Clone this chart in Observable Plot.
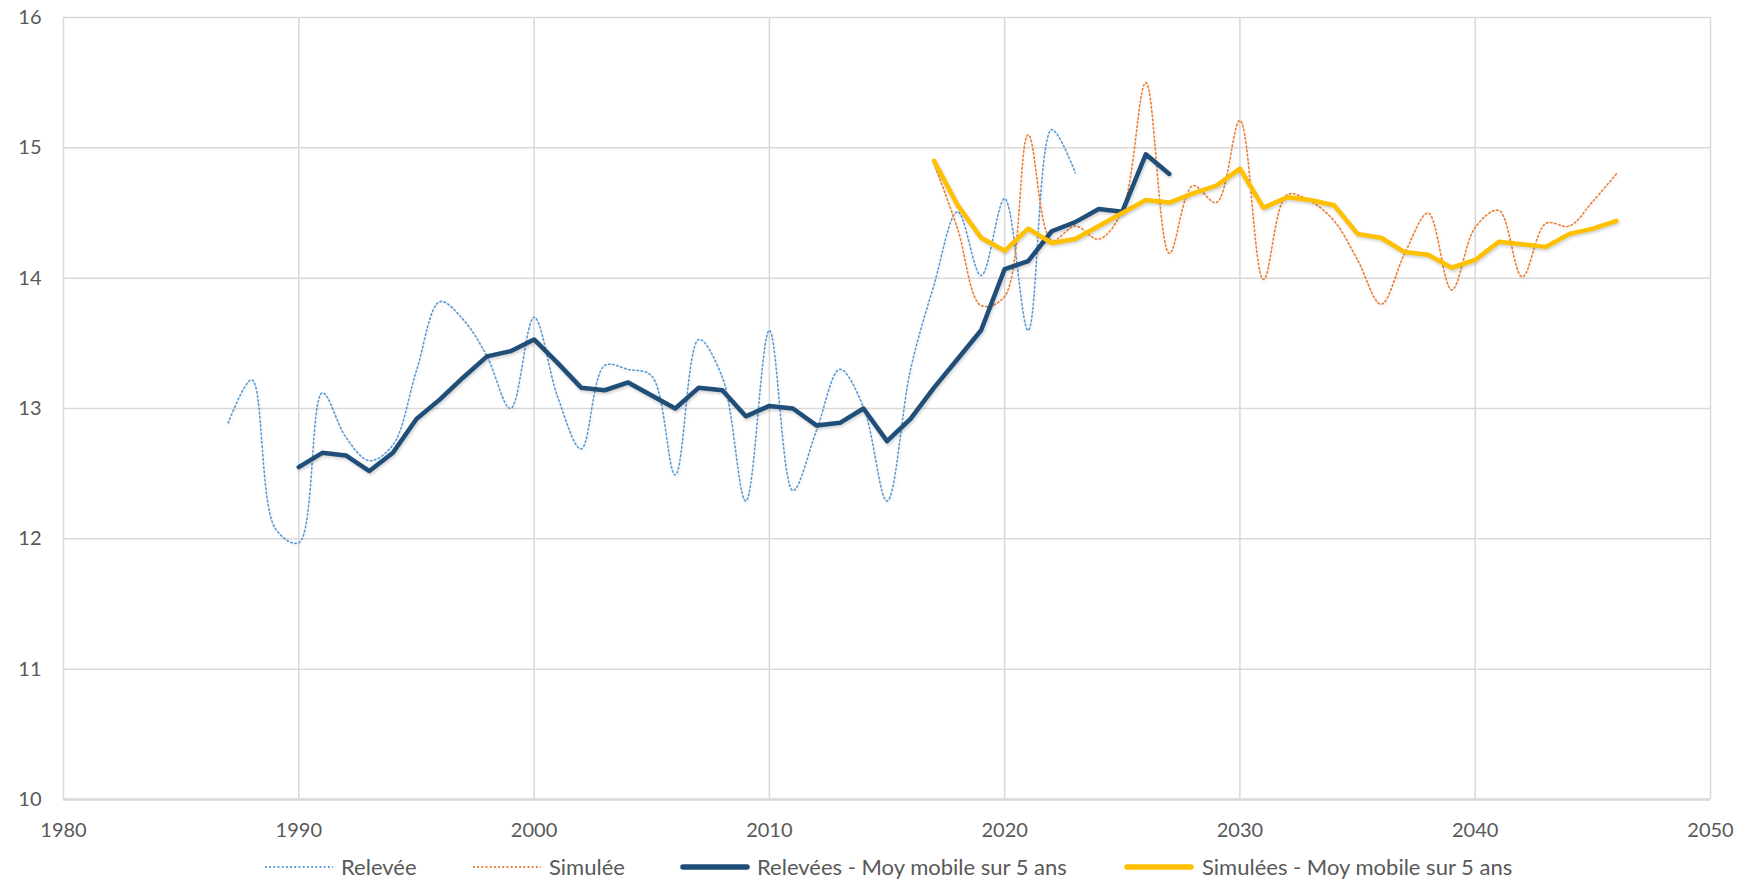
<!DOCTYPE html>
<html>
<head>
<meta charset="utf-8">
<script src="https://cdn.jsdelivr.net/npm/d3@7"></script>
<script src="https://cdn.jsdelivr.net/npm/@observablehq/plot@0.6"></script>
<style>
  html, body { margin: 0; padding: 0; background: #fff; }
  #wrap { position: relative; width: 1745px; height: 881px; font-family: Lato, "Open Sans", sans-serif; }
  #legend { position: absolute; left: 0; top: 851px; width: 1745px; height: 32px; }
  .sw { position: absolute; top: 11px; }
  .lt { position: absolute; top: 0; height: 32px; line-height: 32px; font-size: 22px; color: #595959; white-space: nowrap; }
  .shadow path { filter: drop-shadow(1px 2px 1.5px rgba(0,0,0,0.18)); }
  .shadowlight path { filter: drop-shadow(1px 2px 1.5px rgba(0,0,0,0.08)); }
</style>
</head>
<body>
<div id="wrap">
  <div id="chart"></div>
  <div id="legend"></div>
</div>
<script>
// Relevée (observed), 1987–2023
const releveYears = d3.range(1987, 2024);
const releve = [12.89, 13.22, 12.08, 11.97, 13.12, 12.78, 12.60, 12.72, 13.29, 13.82,
                13.68, 13.40, 13.00, 13.70, 13.09, 12.69, 13.33, 13.30, 13.25, 12.49,
                13.53, 13.24, 12.29, 13.60, 12.37, 12.83, 13.30, 13.01, 12.29, 13.30,
                13.95, 14.51, 14.02, 14.61, 13.60, 15.14, 14.81];

// Simulée, 2017–2046
const simuleYears = d3.range(2017, 2047);
const simule = [14.88, 14.38, 13.79, 13.86, 15.10, 14.29, 14.40, 14.30, 14.52, 15.50,
                14.19, 14.71, 14.58, 15.21, 13.99, 14.64, 14.59, 14.44, 14.14, 13.80,
                14.19, 14.50, 13.91, 14.39, 14.52, 14.01, 14.42, 14.40, 14.59, 14.80];

// Relevées - moyenne mobile sur 5 ans, 1990–2027
const releveMMYears = d3.range(1990, 2028);
const releveMM = [12.55, 12.66, 12.64, 12.52, 12.66, 12.92, 13.07, 13.24, 13.40, 13.44,
                  13.53, 13.35, 13.16, 13.14, 13.20, 13.10, 13.00, 13.16, 13.14, 12.94,
                  13.02, 13.00, 12.87, 12.89, 13.00, 12.75, 12.92, 13.16, 13.38, 13.60,
                  14.07, 14.13, 14.36, 14.43, 14.53, 14.51, 14.95, 14.80];

// Simulées - moyenne mobile sur 5 ans, 2017–2046
const simuleMMYears = d3.range(2017, 2047);
const simuleMM = [14.90, 14.56, 14.31, 14.21, 14.38, 14.27, 14.30, 14.40, 14.50, 14.60,
                  14.58, 14.65, 14.71, 14.84, 14.54, 14.62, 14.60, 14.56, 14.34, 14.31,
                  14.20, 14.18, 14.08, 14.14, 14.28, 14.26, 14.24, 14.34, 14.38, 14.44];

const xTicks = d3.range(1980, 2051, 10);
const yTicks = [10, 11, 12, 13, 14, 15, 16];

const seriesNames = ["Relevée", "Simulée", "Relevées - Moy mobile sur 5 ans", "Simulées - Moy mobile sur 5 ans"];
const seriesColors = ["#5B9BD5", "#ED7D31", "#1F4E79", "#FFC000"];

const toRows = (years, vals) => years.map((y, i) => ({year: y, value: vals[i]}));
const rowsReleve = toRows(releveYears, releve);
const rowsSimule = toRows(simuleYears, simule);
const rowsReleveMM = toRows(releveMMYears, releveMM);
const rowsSimuleMM = toRows(simuleMMYears, simuleMM);

const chart = Plot.plot({
  width: 1745,
  height: 845,
  marginLeft: 63,
  marginRight: 35,
  marginTop: 17,
  marginBottom: 46,
  style: {fontFamily: "Lato, 'Open Sans', sans-serif", fontSize: "20px", color: "#595959", background: "#fff"},
  x: {domain: [1980, 2050], ticks: xTicks, tickFormat: d => String(d), label: null},
  y: {domain: [10, 16], ticks: yTicks, tickFormat: d => String(d), label: null},
  marks: [
    Plot.gridX(xTicks, {stroke: "#d9d9d9", strokeOpacity: 1, strokeWidth: 1.5}),
    Plot.gridY(yTicks, {stroke: "#d9d9d9", strokeOpacity: 1, strokeWidth: 1.5}),
    Plot.ruleY([10], {stroke: "#d9d9d9", strokeWidth: 2.5}),
    Plot.axisX(xTicks, {tickSize: 0, tickPadding: 23, fill: "#595959", fontSize: 20, tickFormat: d => String(d)}),
    Plot.axisY(yTicks, {tickSize: 0, tickPadding: 22, fill: "#595959", fontSize: 20, tickFormat: d => String(d)}),
    Plot.line(rowsReleve, {x: "year", y: "value", stroke: seriesColors[0], strokeWidth: 1.6,
      strokeDasharray: "1.6 2.6", curve: "catmull-rom", className: "shadowlight"}),
    Plot.line(rowsSimule, {x: "year", y: "value", stroke: seriesColors[1], strokeWidth: 1.6,
      strokeDasharray: "1.6 2.6", curve: "catmull-rom", className: "shadowlight"}),
    Plot.line(rowsReleveMM, {x: "year", y: "value", stroke: seriesColors[2], strokeWidth: 4.5,
      strokeLinejoin: "round", className: "shadow"}),
    Plot.line(rowsSimuleMM, {x: "year", y: "value", stroke: seriesColors[3], strokeWidth: 4.5,
      strokeLinejoin: "round", className: "shadow"})
  ]
});
document.getElementById("chart").appendChild(chart);

// Legend
const swatchLeft = [265, 473, 680, 1124];
const textLeft = [341, 549, 757, 1202];
const legend = document.getElementById("legend");
seriesNames.forEach((name, i) => {
  const dotted = i < 2;
  const w = dotted ? 68 : 70;
  const sw = document.createElement("div");
  sw.className = "sw";
  sw.style.left = swatchLeft[i] + "px";
  sw.innerHTML = `<svg width="${w}" height="10" style="display:block"><line x1="${dotted ? 0 : 3}" x2="${dotted ? w : w - 3}" y1="5" y2="5" stroke="${seriesColors[i]}"
     stroke-width="${dotted ? 1.8 : 5.5}" ${dotted ? 'stroke-dasharray="1.8 2.4"' : 'stroke-linecap="round"'} /></svg>`;
  legend.appendChild(sw);
  const t = document.createElement("div");
  t.className = "lt";
  t.style.left = textLeft[i] + "px";
  t.textContent = name;
  legend.appendChild(t);
});
</script>
</body>
</html>
